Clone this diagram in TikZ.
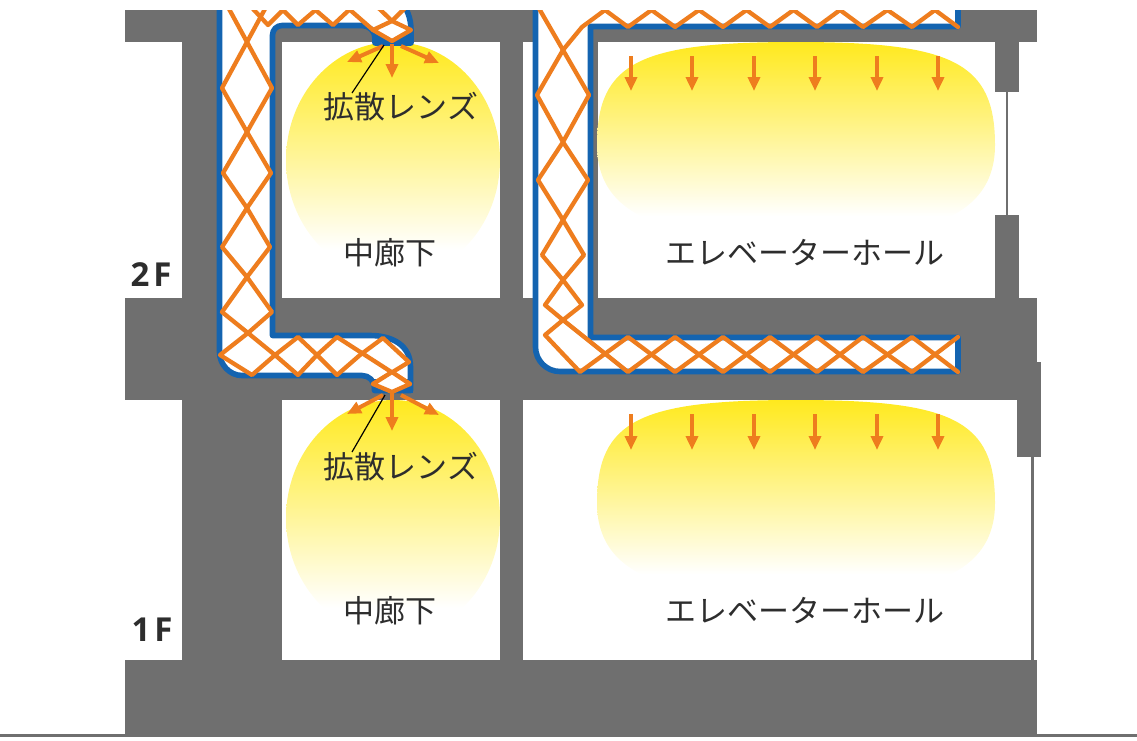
\documentclass[tikz,border=0pt]{standalone}
\usepackage{fontspec}
\newfontfamily\jpfont{Noto Sans CJK JP}
\newfontfamily\flfont{Open Sans}
\usetikzlibrary{arrows.meta}

\definecolor{wallgray}{RGB}{111,111,111}
\definecolor{ductblue}{RGB}{20,100,176}
\definecolor{ductorange}{RGB}{238,125,30}
\definecolor{glowtop}{RGB}{255,233,30}
\definecolor{glowmid}{RGB}{255,244,140}
\definecolor{labelgray}{RGB}{45,45,45}

% light falling from the ceiling: yellow at the top, fading to white
\pgfdeclareverticalshading{glow}{100bp}{color(0bp)=(white); color(31bp)=(white); color(53bp)=(glowmid); color(75bp)=(glowtop); color(100bp)=(glowtop)}

\begin{document}
\begin{tikzpicture}[x=1pt,y=-1pt,
  wall/.style={fill=wallgray},
  window/.style={draw=wallgray, line width=2.6pt},
  ground/.style={draw=wallgray, line width=3pt},
  duct/.style={fill=white, draw=ductblue, line width=5.6pt, line join=round},
  lattice/.style={draw=ductorange, line width=4.3pt, line join=round, line cap=round},
  lensframe/.style={fill=ductblue},
  lensgem/.style={fill=white, draw=ductorange, line width=4.3pt, line join=round},
  flow/.style={draw=ductorange, line width=4pt, -{Triangle[length=14pt,width=12pt]}},
  leader/.style={draw=black, line width=1.2pt},
  roomlabel/.style={text=labelgray, inner sep=0pt, font=\jpfont\fontsize{31}{31}\selectfont},
  floorlabel/.style={text=labelgray, inner sep=0pt, font=\flfont\bfseries\fontsize{33}{33}\selectfont}]
\useasboundingbox (0,0) rectangle (1137,740);

% ---- structure: slabs, columns and walls ----
\fill[wall] (125,10) rectangle (1037,42);
\fill[wall] (182,42) rectangle (282,298);
\fill[wall] (500,42) rectangle (523,298);
\fill[wall] (593,42) rectangle (598,298);
\fill[wall] (995,42) rectangle (1019,92);
\fill[wall] (995,215) rectangle (1019,298);
\fill[wall] (125,298) rectangle (1037,400);
\fill[wall] (1017,362) rectangle (1041,457);
\fill[wall] (182,400) rectangle (282,660);
\fill[wall] (500,400) rectangle (523,660);
\fill[wall] (125,660) rectangle (1037,737);
\draw[window] (1007,92) -- (1007,215);
\draw[window] (1032.5,457) -- (1032.5,660);
\draw[ground] (0,735.5) -- (1137,735.5);

% ---- light pools ----
\shade[shading=glow] (393,160) ellipse [x radius=107, y radius=118];
\shade[shading=glow] (393,518) ellipse [x radius=107, y radius=118];
\foreach \dy in {0,358} {
  \begin{scope}[shift={(0,\dy)}]
    \shade[shading=glow] (597,145) .. controls (597,62) and (640,42) .. (796,42)
      .. controls (952,42) and (995,62) .. (995,145)
      .. controls (995,215) and (930,240) .. (796,240)
      .. controls (662,240) and (597,215) .. cycle;
  \end{scope}
}

% ---- ducts with their lattice ----
\begin{scope}
\clip (0,10) rectangle (1137,740);

% duct serving the corridors
\path[duct] (219.5,-12) -- (219.5,352)
  .. controls (219.5,364.4) and (229.6,375.5) .. (242,375.5) -- (362,375.5)
  .. controls (369,375.5) and (374.5,381) .. (374.5,388) -- (374.5,390.5)
  -- (410.5,390.5) -- (410.5,367)
  .. controls (410.5,345) and (392,335.5) .. (370,335.5) -- (272.5,335.5)
  -- (272.5,35) .. controls (272.5,29.7) and (276.8,25.5) .. (282,25.5) -- (362,25.5)
  .. controls (369,25.5) and (375,31) .. (375,38) -- (375,43) -- (411,43) -- (411,30)
  .. controls (411,6) and (394,-12) .. (370,-12) -- cycle;
\fill[lensframe] (372.5,28) rectangle (412.5,44.5);
\fill[lensframe] (372.5,379) rectangle (412.5,393);

\draw[lattice] (222,-4) -- (247,42) -- (272,88) -- (247,132) -- (223,173) -- (247,208)
  -- (270,247) -- (247,277) -- (222,312) -- (248,333) -- (275,355) -- (298,375)
  -- (317,355) -- (337,337) -- (410,384);
\draw[lattice] (272,-4) -- (247,42) -- (222,88) -- (247,132) -- (271,173) -- (247,208)
  -- (222,247) -- (247,277) -- (272,312) -- (248,333) -- (220,355) -- (252,375)
  -- (275,355) -- (298,337) -- (317,355) -- (337,375) -- (360,355) -- (383,338)
  -- (409,362) -- (373,384);
\draw[lattice] (240,-5) -- (268,25) -- (298,-5) -- (333,25) -- (365,-5) -- (392,21);
\draw[lattice] (268,-5) -- (298,25) -- (333,-5) -- (373,30);
\draw[lattice] (392,21) -- (412,1);
\draw[lensgem] (373,30) -- (392,21) -- (411,30) -- (392,41) -- cycle;
\draw[lensgem] (373,384) -- (392,372) -- (410,384) -- (392,392) -- cycle;

% duct serving the lift halls
\path[duct] (535.5,-20) -- (535.5,347)
  .. controls (535.5,360.5) and (546.5,371.5) .. (560,371.5) -- (958,371.5)
  -- (958,337.5) -- (590.5,337.5) -- (590.5,26.5) -- (958,26.5) -- (958,-20) -- cycle;
\draw[lattice] (958,27) -- (912,-7) -- (863,27) -- (817,-7) -- (770,27) -- (723,-7)
  -- (675,27) -- (628,-7) -- (582,27) -- (563,50) -- (537,95) -- (563,142) -- (588,180)
  -- (563,220) -- (542,255) -- (563,280) -- (582,305) -- (563,320) -- (545,335)
  -- (580,372) -- (628,337) -- (675,372) -- (723,337) -- (770,372) -- (817,337)
  -- (863,372) -- (912,337) -- (958,372);
\draw[lattice] (537,5) -- (563,50) -- (589,95) -- (563,142) -- (538,180) -- (563,220)
  -- (584,255) -- (563,280) -- (545,305) -- (563,320) -- (628,372) -- (675,337)
  -- (723,372) -- (770,337) -- (817,372) -- (863,337) -- (912,372) -- (958,337);
\draw[lattice] (582,-7) -- (628,27) -- (675,-7) -- (723,27) -- (770,-7) -- (817,27)
  -- (863,-7) -- (912,27) -- (958,-7);
\end{scope}

% ---- air leaving the diffuser lenses ----
\coordinate (lensA) at (392,44);
\coordinate (lensAl) at (383,46);
\coordinate (lensAr) at (401,46);
\coordinate (outAd) at (392,78);
\coordinate (outAl) at (347,62);
\coordinate (outAr) at (439,63);
\draw[flow] (lensA) -- (outAd);
\draw[flow] (lensAl) -- (outAl);
\draw[flow] (lensAr) -- (outAr);

\coordinate (lensB) at (392,393);
\coordinate (lensBl) at (383,395);
\coordinate (lensBr) at (401,395);
\coordinate (outBd) at (392,431);
\coordinate (outBl) at (347,414);
\coordinate (outBr) at (439,415);
\draw[flow] (lensB) -- (outBd);
\draw[flow] (lensBl) -- (outBl);
\draw[flow] (lensBr) -- (outBr);

% ---- air from the ceiling duct into the lift halls ----
\foreach \x [count=\i] in {631,692,754,815,877,938} {
  \coordinate (hallA\i) at (\x,56);
  \coordinate (hallAend\i) at (\x,91);
  \draw[flow] (hallA\i) -- (hallAend\i);
  \coordinate (hallB\i) at (\x,414);
  \coordinate (hallBend\i) at (\x,450);
  \draw[flow] (hallB\i) -- (hallBend\i);
}

% ---- labels ----
\node[roomlabel] (lensnameA) at (401,107) {拡散レンズ};
\node[roomlabel] (lensnameB) at (401,467) {拡散レンズ};
\coordinate (leadA) at (384,45);
\coordinate (leadAend) at (352,93);
\coordinate (leadB) at (385,395);
\coordinate (leadBend) at (352,452);
\draw[leader] (leadA) -- (leadAend);
\draw[leader] (leadB) -- (leadBend);

\node[roomlabel] (corrA) at (390,253) {中廊下};
\node[roomlabel] (corrB) at (390,611) {中廊下};
\node[roomlabel] (hallA) at (805,253) {エレベーターホール};
\node[roomlabel] (hallB) at (805,611) {エレベーターホール};

\node[floorlabel] (floorA) at (151,275) {2\kern4pt F};
\node[floorlabel] (floorB) at (152,630) {1\kern4pt F};
\end{tikzpicture}
\end{document}
